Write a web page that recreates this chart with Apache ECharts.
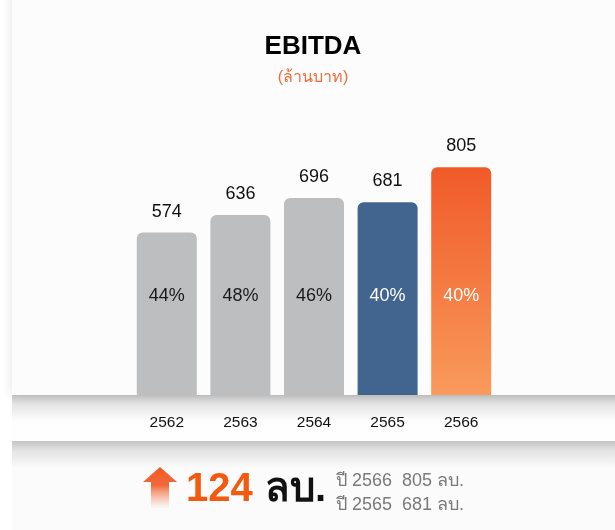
<!DOCTYPE html>
<html>
<head>
<meta charset="utf-8">
<script src="https://cdn.jsdelivr.net/npm/echarts@6/dist/echarts.min.js"></script>
<style>
html,body{margin:0;padding:0;background:#ffffff;}
#c{width:615px;height:530px;}
</style>
</head>
<body>
<div id="c"></div>
<script>
const years = ['2562', '2563', '2564', '2565', '2566'];
const ebitda = [574, 636, 696, 681, 805];
const margins = ['44%', '48%', '46%', '40%', '40%'];
const titleText = 'EBITDA';
const unitText = '(ล้านบาท)';
const unitShort = 'ลบ.';
const yearPrefix = 'ปี';

const FONT = '"Liberation Sans", Arial, "Noto Sans", sans-serif';
const gray = '#bdbec0';
const blue = '#41658f';
const orangeGrad = new echarts.graphic.LinearGradient(0, 0, 0, 1, [
  {offset: 0, color: '#f05a28'},
  {offset: 1, color: '#f99a5c'}
]);
const barColors = [gray, gray, gray, blue, orangeGrad];
const pctColors = ['#1a1a1a', '#1a1a1a', '#1a1a1a', '#ffffff', '#ffffff'];

const last = ebitda.length - 1;
const diff = ebitda[last] - ebitda[last - 1];

function shadowGrad(a) {
  return new echarts.graphic.LinearGradient(0, 0, 0, 1, [
    {offset: 0, color: 'rgba(0,0,0,' + a + ')'},
    {offset: 0.35, color: 'rgba(0,0,0,' + (a * 0.45) + ')'},
    {offset: 1, color: 'rgba(0,0,0,0)'}
  ]);
}

const chart = echarts.init(document.getElementById('c'), null, {renderer: 'canvas'});
chart.setOption({
  animation: false,
  backgroundColor: '#ffffff',
  grid: {left: 130, right: 117, top: 112, bottom: 135},
  xAxis: {
    type: 'category', data: years,
    axisLine: {show: false}, axisTick: {show: false},
    axisLabel: {margin: 20, fontFamily: FONT, fontSize: 15.5, color: '#111'}
  },
  yAxis: {type: 'value', min: 0, max: 1000, show: false, splitLine: {show: false}},
  series: [
    {
      type: 'bar', barWidth: 60, z: 3,
      data: ebitda.map((v, i) => ({value: v, itemStyle: {color: barColors[i]}})),
      itemStyle: {borderRadius: [6, 6, 0, 0]},
      label: {show: true, position: 'top', distance: 12, fontFamily: FONT, fontSize: 18, color: '#111'}
    },
    {
      type: 'bar', barWidth: 60, barGap: '-100%', z: 4, silent: true,
      data: ebitda.map((v, i) => ({value: v,
        label: {color: pctColors[i], formatter: margins[i]}})),
      itemStyle: {color: 'rgba(0,0,0,0)'},
      label: {show: true, position: 'insideBottom', distance: 90, fontFamily: FONT, fontSize: 18}
    }
  ],
  graphic: [
    {type: 'rect', z: 0, z2: 0, shape: {x: 12, y: 441, width: 620, height: 120},
     style: {fill: '#fbfbfb'}},
    {type: 'rect', z: 0, z2: 1, shape: {x: 12, y: 395, width: 620, height: 46},
     style: {fill: '#fefefe'}},
    {type: 'rect', z: 0, z2: 2, shape: {x: 12, y: -20, width: 620, height: 415},
     style: {fill: '#fcfcfc', shadowBlur: 10, shadowOffsetX: -1, shadowColor: 'rgba(0,0,0,0.10)'}},
    {type: 'rect', z: 0, z2: 3, shape: {x: 12, y: 395, width: 620, height: 27},
     style: {fill: shadowGrad(0.22)}},
    {type: 'rect', z: 0, z2: 3, shape: {x: 12, y: 441, width: 620, height: 27},
     style: {fill: shadowGrad(0.22)}},
    {type: 'text', z: 5, x: 313, y: 47,
     style: {text: titleText, fontFamily: FONT, fontSize: 26, fontWeight: 'bold', fill: '#000',
             align: 'center', verticalAlign: 'middle'}},
    {type: 'text', z: 5, x: 313, y: 78,
     style: {text: unitText, fontFamily: FONT, fontSize: 16, fill: '#f26b3a',
             align: 'center', verticalAlign: 'middle'}},
    {type: 'polygon', z: 5,
     shape: {points: [[160, 467], [177, 482], [169, 482], [169, 508], [151, 508], [151, 482], [143, 482]]},
     style: {fill: new echarts.graphic.LinearGradient(0, 0, 0, 1, [
       {offset: 0, color: '#f15a24'}, {offset: 0.45, color: '#f2693a'}, {offset: 1, color: 'rgba(246,160,130,0.05)'}])}},
    {type: 'text', z: 5, x: 186, y: 490,
     style: {text: String(diff), fontFamily: FONT, fontSize: 40, fontWeight: 'bold', fill: '#f45a0f',
             verticalAlign: 'middle'}},
    {type: 'text', z: 5, x: 265, y: 490,
     style: {text: unitShort, fontFamily: FONT, fontSize: 40, fontWeight: 'bold', fill: '#111',
             verticalAlign: 'middle'}},
    {type: 'text', z: 5, x: 336, y: 481,
     style: {text: yearPrefix + ' ' + years[last] + '  ' + ebitda[last] + ' ' + unitShort,
             fontFamily: FONT, fontSize: 18, fill: '#7a7a7a', verticalAlign: 'middle'}},
    {type: 'text', z: 5, x: 336, y: 505,
     style: {text: yearPrefix + ' ' + years[last - 1] + '  ' + ebitda[last - 1] + ' ' + unitShort,
             fontFamily: FONT, fontSize: 18, fill: '#7a7a7a', verticalAlign: 'middle'}}
  ]
});
</script>
</body>
</html>
